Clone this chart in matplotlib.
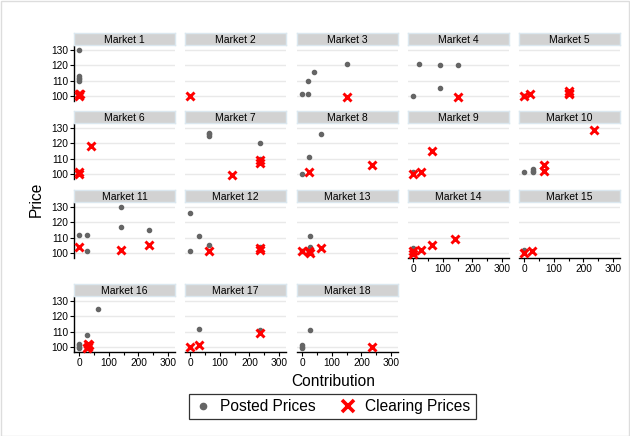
import matplotlib
matplotlib.use("Agg")
import matplotlib.pyplot as plt
from matplotlib.lines import Line2D
from matplotlib.patches import Rectangle
import numpy as np

plt.rcParams["font.family"] = ["Liberation Sans", "DejaVu Sans"]

# Posted prices: market number, contribution, price
posted_market = [1, 1, 1, 1, 1, 1,
                 3, 3, 3, 3, 3,
                 4, 4, 4, 4, 4,
                 5,
                 6,
                 7, 7, 7, 7, 7,
                 8, 8, 8,
                 9,
                 10, 10, 10, 10,
                 11, 11, 11, 11, 11, 11,
                 12, 12, 12, 12, 12,
                 13, 13, 13,
                 14,
                 15,
                 16, 16, 16, 16, 16, 16, 16,
                 17, 17,
                 18, 18, 18, 18]
posted_contrib = [0, 0, 0, 0, 0, 0,
                  0, 20, 20, 40, 150,
                  20, 90, 150, 0, 90,
                  0,
                  0,
                  65, 65, 65, 235, 235,
                  0, 25, 65,
                  0,
                  0, 30, 30, 30,
                  0, 27, 27, 140, 140, 235,
                  0, 30, 0, 65, 235,
                  27, 27, 0,
                  0,
                  0,
                  0, 0, 0, 0, 27, 65, 30,
                  30, 235,
                  0, 0, 0, 27]
posted_price = [130, 113, 112, 111, 110, 101,
                101, 101, 110, 116, 121,
                121, 120, 120, 100, 105,
                100,
                101,
                125, 126, 127, 120, 110,
                100, 111, 126,
                101,
                101, 101, 102, 103,
                112, 112, 101, 130, 117, 115,
                126, 111, 101, 105, 104,
                111, 104, 101,
                103,
                102,
                99, 100, 101, 102, 108, 125, 101,
                112, 111,
                100, 101, 99.5, 111]

# Clearing prices: market number, contribution, price
clearing_market = [1, 1, 1,
                   2,
                   3,
                   4,
                   5, 5, 5, 5, 5,
                   6, 6, 6,
                   7, 7, 7,
                   8, 8,
                   9, 9, 9,
                   10, 10, 10,
                   11, 11, 11,
                   12, 12, 12,
                   13, 13, 13, 13,
                   14, 14, 14, 14, 14,
                   15, 15,
                   16, 16, 16, 16,
                   17, 17, 17,
                   18]
clearing_contrib = [0, 0, 4,
                    0,
                    150,
                    150,
                    0, 20, 150, 150, 152,
                    0, 0, 40,
                    140, 235, 235,
                    25, 235,
                    0, 28, 65,
                    68, 68, 235,
                    0, 140, 235,
                    65, 235, 235,
                    0, 25, 27, 65,
                    0, 0, 28, 65, 140,
                    0, 28,
                    27, 30, 32, 30,
                    0, 30, 235,
                    235]
clearing_price = [101, 100, 101,
                  100,
                  99,
                  99,
                  100, 101, 101, 103, 102,
                  101, 100, 118,
                  99, 107, 109,
                  101, 106,
                  100, 101, 115,
                  102, 106, 129,
                  104, 102, 105,
                  101, 102, 103,
                  101, 101, 100, 103,
                  99, 101, 102, 105, 109,
                  100, 101,
                  99, 100, 101, 102,
                  100, 101, 109,
                  100]

markets = list(range(1, 19))
y_ticks = [100, 110, 120, 130]
x_ticks = [0, 100, 200, 300]
x_minor = [50, 150, 250]
n_cols = 5

W, H = 630, 436
fig = plt.figure(figsize=(W / 100, H / 100), dpi=100)
fig.patch.set_facecolor("white")


def rect(left, top, width, height):
    return [left / W, 1 - (top + height) / H, width / W, height / H]


col_left = [74, 185, 297, 408, 519]
row_top = [46, 124, 203, 297]
pw, ph = 101, 55

posted_market = np.array(posted_market)
posted_contrib = np.array(posted_contrib, dtype=float)
posted_price = np.array(posted_price, dtype=float)
clearing_market = np.array(clearing_market)
clearing_contrib = np.array(clearing_contrib, dtype=float)
clearing_price = np.array(clearing_price, dtype=float)

n_markets = len(markets)
for i, m in enumerate(markets):
    r, c = divmod(i, n_cols)
    ax = fig.add_axes(rect(col_left[c], row_top[r], pw, ph))
    ax.set_xlim(-17, 323)
    ax.set_ylim(96.7, 132.7)
    for s in ax.spines.values():
        s.set_visible(False)
    ax.set_yticks(y_ticks)
    ax.grid(axis="y", color="#e9e9e9", lw=1.0)
    ax.set_axisbelow(True)

    # y axis on the first column only
    if c == 0:
        ax.spines["left"].set_visible(True)
        ax.spines["left"].set_color("black")
        ax.spines["left"].set_linewidth(1.0)
        ax.tick_params(axis="y", length=3, width=0.8, labelsize=7.3, pad=1)
    else:
        ax.tick_params(axis="y", length=0, labelleft=False)

    # x axis on the lowest panel in each column
    bottom = (i + n_cols >= n_markets)
    ax.set_xticks(x_ticks)
    if bottom:
        ax.spines["bottom"].set_visible(True)
        ax.spines["bottom"].set_color("black")
        ax.spines["bottom"].set_linewidth(1.0)
        ax.set_xticks(x_minor, minor=True)
        ax.tick_params(axis="x", which="major", length=3, width=0.8,
                       labelsize=7.3, pad=1.5)
        ax.tick_params(axis="x", which="minor", length=2, width=0.8)
    else:
        ax.tick_params(axis="x", length=0, labelbottom=False)

    sel = posted_market == m
    ax.plot(posted_contrib[sel], posted_price[sel], "o", ms=3.0,
            color="#656565", mec="#656565", clip_on=False, zorder=3)
    sel = clearing_market == m
    ax.plot(clearing_contrib[sel], clearing_price[sel], "x", ms=6.3,
            mew=2.1, color="#ff0000", clip_on=False, zorder=4)

    # panel title strip
    sax = fig.add_axes(rect(col_left[c], row_top[r] - 13, pw, 12))
    sax.set_facecolor("#d2d2d2")
    sax.set_xticks([])
    sax.set_yticks([])
    for s in sax.spines.values():
        s.set_color("#dbe7ef")
        s.set_linewidth(1.0)
    sax.text(0.5, 0.45, f"Market {m}", ha="center", va="center",
             fontsize=7.5, transform=sax.transAxes)

fig.text(36 / W, 1 - 199 / H, "Price", rotation=90, ha="center",
         va="center", fontsize=11.2)
fig.text(333 / W, 1 - 381 / H, "Contribution", ha="center", va="center",
         fontsize=11.2)

handles = [
    Line2D([], [], ls="none", marker="o", ms=4.5, color="#656565"),
    Line2D([], [], ls="none", marker="x", ms=9, mew=2.6, color="#ff0000"),
]
leg = fig.legend(handles, ["Posted Prices", "Clearing Prices"],
                 loc="center", bbox_to_anchor=(332.5 / W, 1 - 406.5 / H),
                 ncol=2, fontsize=11.2, frameon=True, fancybox=False,
                 edgecolor="black", handlelength=1.0, handletextpad=0.6,
                 columnspacing=1.6, borderpad=0.35, borderaxespad=0)
leg.get_frame().set_linewidth(0.9)

fig.add_artist(Rectangle((0.5 / W, 0.5 / H), 1 - 2 / W, 1 - 2 / H,
                         transform=fig.transFigure, fill=False,
                         ec="#dddddd", lw=1.0))

fig.savefig("out.png", dpi=100, facecolor="white")
